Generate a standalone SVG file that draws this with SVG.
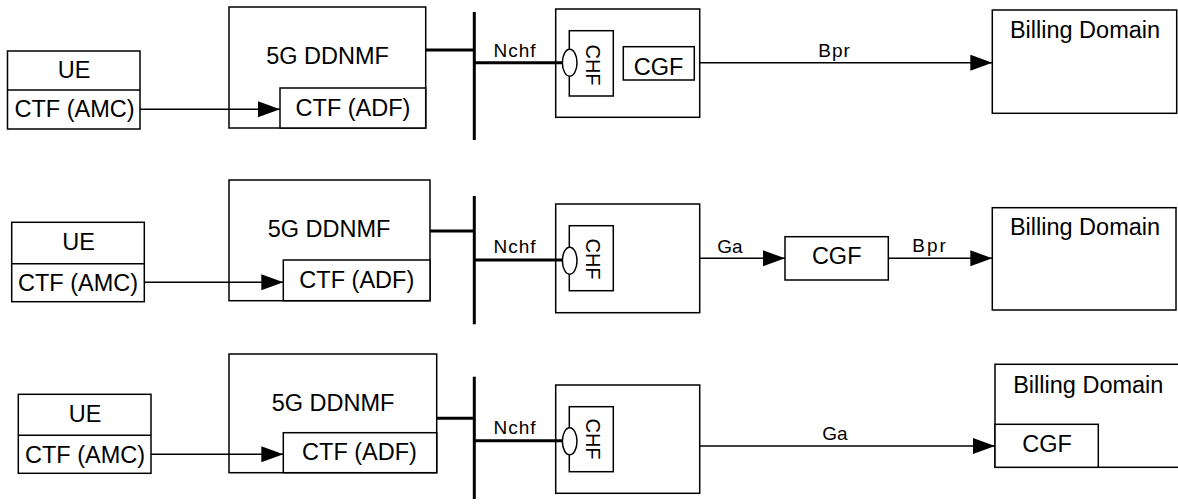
<svg xmlns="http://www.w3.org/2000/svg" width="1178" height="504" viewBox="0 0 1178 504">
<style>
.box{fill:#fff;stroke:#000;stroke-width:1.5}
.t{font-family:"Liberation Sans",Arial,sans-serif;font-size:23.5px;fill:#000;text-anchor:middle}
.lbl{font-family:"Liberation Sans",Arial,sans-serif;font-size:19px;fill:#000;text-anchor:middle}
.rot{font-family:"Liberation Sans",Arial,sans-serif;font-size:20px;fill:#000;text-anchor:middle}
.thick{stroke:#000;stroke-width:3;fill:none}
.thin{stroke:#000;stroke-width:1.5;fill:none}
.arr{stroke:#000;stroke-width:1.5;fill:none;marker-end:url(#ah)}
.ell{fill:#fff;stroke:#000;stroke-width:1.5}
</style>
<defs>
<marker id="ah" markerUnits="userSpaceOnUse" markerWidth="23" markerHeight="17" refX="22" refY="8" orient="auto">
<path d="M0,0 L22,8 L0,16 Z" fill="#000"/>
</marker>
</defs>
<rect width="1178" height="504" fill="#fff"/>

<!-- Row 1 -->
<g id="ue1">
<rect class="box" x="7.5" y="51" width="132.5" height="78"/>
<line class="thin" x1="7.5" y1="90" x2="140" y2="90"/>
<text class="t" x="74" y="78.3">UE</text>
<text class="t" x="74.5" y="117.3">CTF (AMC)</text>
</g>
<g id="ddnmf1">
<rect class="box" x="229" y="7" width="196.7" height="121"/>
<text class="t" x="327.5" y="64">5G DDNMF</text>
<rect class="box" x="280" y="88" width="145.7" height="40"/>
<text class="t" x="353" y="116">CTF (ADF)</text>
</g>
<g id="chf1">
<rect class="box" x="555.7" y="9" width="144" height="108.3"/>
<rect class="box" x="569.3" y="30.7" width="44" height="65.3"/>
<ellipse class="ell" cx="569.7" cy="62.7" rx="7.3" ry="13.5"/>
<text class="rot" transform="translate(593.3,65) rotate(90)" y="7.2">CHF</text>
<rect class="box" x="623.3" y="46.7" width="71" height="33.3"/>
<text class="t" x="658.5" y="75">CGF</text>
</g>
<g id="bd1">
<rect class="box" x="992.3" y="10" width="184.4" height="103.3"/>
<text class="t" x="1085" y="38.3">Billing Domain</text>
</g>

<!-- Row 2 -->
<g id="ue2">
<rect class="box" x="11.7" y="222.3" width="132.6" height="79.4"/>
<line class="thin" x1="11.7" y1="263.7" x2="144.3" y2="263.7"/>
<text class="t" x="78.5" y="250">UE</text>
<text class="t" x="78" y="290.7">CTF (AMC)</text>
</g>
<g id="ddnmf2">
<rect class="box" x="229" y="180" width="201" height="120.7"/>
<text class="t" x="329" y="236.7">5G DDNMF</text>
<rect class="box" x="283.3" y="260" width="146.7" height="40.7"/>
<text class="t" x="356.8" y="288">CTF (ADF)</text>
</g>
<g id="chf2">
<rect class="box" x="555.7" y="204" width="144" height="108.7"/>
<rect class="box" x="569.3" y="225.7" width="44" height="65"/>
<ellipse class="ell" cx="569.7" cy="260.7" rx="7.3" ry="13.5"/>
<text class="rot" transform="translate(593.3,259) rotate(90)" y="7.2">CHF</text>
</g>
<g id="cgf2">
<rect class="box" x="785" y="236.7" width="103.3" height="43.3"/>
<text class="t" x="836.7" y="264">CGF</text>
</g>
<g id="bd2">
<rect class="box" x="992.3" y="207.7" width="183.7" height="102.3"/>
<text class="t" x="1085" y="235">Billing Domain</text>
</g>

<!-- Row 3 -->
<g id="ue3">
<rect class="box" x="18.3" y="394.3" width="132.7" height="79"/>
<line class="thin" x1="18.3" y1="435.3" x2="151" y2="435.3"/>
<text class="t" x="85" y="421.7">UE</text>
<text class="t" x="85" y="462.7">CTF (AMC)</text>
</g>
<g id="ddnmf3">
<rect class="box" x="229" y="354" width="207.7" height="118.7"/>
<text class="t" x="333" y="410.7">5G DDNMF</text>
<rect class="box" x="283.3" y="432.7" width="153.4" height="40"/>
<text class="t" x="359.5" y="460">CTF (ADF)</text>
</g>
<g id="chf3">
<rect class="box" x="555.7" y="385" width="144" height="108.3"/>
<rect class="box" x="569.3" y="406.7" width="44" height="65"/>
<ellipse class="ell" cx="569.7" cy="441.3" rx="7.3" ry="13.5"/>
<text class="rot" transform="translate(593.3,439) rotate(90)" y="7.2">CHF</text>
</g>
<g id="bd3">
<rect class="box" x="995" y="364.3" width="200" height="103"/>
<text class="t" x="1088.3" y="392.7">Billing Domain</text>
<rect class="box" x="995" y="424.3" width="103.3" height="43"/>
<text class="t" x="1047" y="451.7">CGF</text>
</g>

<!-- Connectors -->
<g id="connectors">
<!-- row 1 -->
<line class="arr" x1="140" y1="109.3" x2="280" y2="109.3"/>
<line class="thick" x1="425.7" y1="50" x2="474.3" y2="50"/>
<line class="thick" x1="474.3" y1="12" x2="474.3" y2="140"/>
<line class="thick" x1="474.3" y1="62.7" x2="562.5" y2="62.7"/>
<text class="lbl" x="515" y="56.7" letter-spacing="1">Nchf</text>
<line class="arr" x1="699.7" y1="62.7" x2="992.3" y2="62.7"/>
<text class="lbl" x="834.5" y="56.7" letter-spacing="1">Bpr</text>
<!-- row 2 -->
<line class="arr" x1="144.3" y1="282.3" x2="283.3" y2="282.3"/>
<line class="thick" x1="430" y1="231" x2="474.3" y2="231"/>
<line class="thick" x1="474.3" y1="196" x2="474.3" y2="324.3"/>
<line class="thick" x1="474.3" y1="260" x2="562.5" y2="260"/>
<text class="lbl" x="515" y="253" letter-spacing="1">Nchf</text>
<line class="arr" x1="699.7" y1="258.3" x2="785" y2="258.3"/>
<text class="lbl" x="730" y="253">Ga</text>
<line class="arr" x1="888.3" y1="258.3" x2="992.3" y2="258.3"/>
<text class="lbl" x="930" y="251.7" letter-spacing="2">Bpr</text>
<!-- row 3 -->
<line class="arr" x1="151" y1="454.3" x2="283.3" y2="454.3"/>
<line class="thick" x1="436.7" y1="418.3" x2="474.3" y2="418.3"/>
<line class="thick" x1="474.3" y1="376.7" x2="474.3" y2="499"/>
<line class="thick" x1="474.3" y1="440.7" x2="562.5" y2="440.7"/>
<text class="lbl" x="515" y="434" letter-spacing="1">Nchf</text>
<line class="arr" x1="699.7" y1="446" x2="995" y2="446"/>
<text class="lbl" x="835" y="440">Ga</text>
</g>
</svg>
